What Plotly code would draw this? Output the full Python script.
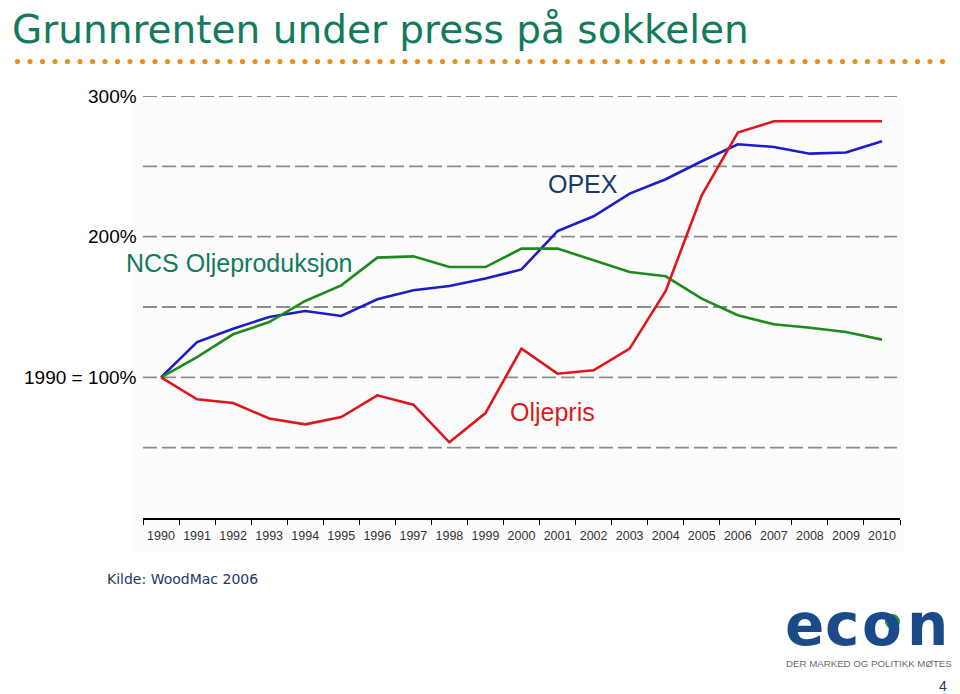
import plotly.graph_objects as go

years = ["1990", "1991", "1992", "1993", "1994", "1995", "1996", "1997", "1998", "1999", "2000",
         "2001", "2002", "2003", "2004", "2005", "2006", "2007", "2008", "2009", "2010"]

opex = [100, 125.1, 134.6, 142.9, 147.1, 143.6, 155.5, 161.9, 164.9, 170.2, 176.7,
        204.0, 214.5, 230.6, 240.8, 253.6, 265.7, 263.8, 259.0, 259.8, 267.8]
ncs_olje = [100, 114.4, 130.6, 139.3, 154.3, 165.4, 185.1, 186.0, 178.4, 178.4, 191.5,
            191.5, 183.2, 174.9, 171.8, 156.0, 144.1, 137.7, 135.3, 132.2, 126.8]
oljepris = [100, 84.4, 81.7, 70.8, 66.6, 71.8, 87.2, 80.6, 53.8, 74.6, 120.4,
            102.6, 105.0, 120.4, 161.4, 229.4, 274.0, 282.0, 282.0, 282.0, 282.0]

grid_levels = [50, 100, 150, 200, 250, 300]
ylabel_vals = [100, 200, 300]
ylabel_text = ["1990 = 100%", "200%", "300%"]

title_text = "Grunnrenten under press på sokkelen"
source_text = "Kilde: WoodMac 2006"
logo_letters = ["e", "c", "o", "n"]
logo_centers = [804, 842, 882, 927]

FONT = "Liberation Sans, Arial, sans-serif"

# page body adds an 8px offset; design in screen pixels and compensate
OFF = 8
W, H = 960, 694
L, R, T, B = 143 - OFF, 900 - OFF, 96 - OFF, 518 - OFF
def px(x):
    return (x - OFF - L) / (R - L)
def py(y):
    return (B - (y - OFF)) / (B - T)
def yval(y):
    return (518 - y) / (422 / 300)

fig = go.Figure()
fig.add_trace(go.Scatter(x=years, y=opex, mode="lines", line=dict(color="#1c1cc8", width=2.6), name="OPEX"))
fig.add_trace(go.Scatter(x=years, y=ncs_olje, mode="lines", line=dict(color="#1e8a1e", width=2.6), name="NCS Oljeproduksjon"))
fig.add_trace(go.Scatter(x=years, y=oljepris, mode="lines", line=dict(color="#e0161c", width=2.6), name="Oljepris"))

shapes = []
shapes.append(dict(type="rect", xref="paper", yref="paper", x0=px(133), x1=px(904), y0=py(552), y1=py(100),
                   fillcolor="#fcfcfc", line=dict(width=0), layer="below"))
for g in grid_levels:
    shapes.append(dict(type="line", xref="paper", yref="y", x0=0, x1=px(897), y0=g, y1=g,
                       line=dict(color="#8c8c8c", width=1.8, dash="14px,5px"), layer="below"))
n_dots = 77
for i in range(n_dots):
    cx = 5 + i * 12.5
    cy = 61.5
    r = 2.6
    shapes.append(dict(type="circle", xref="paper", yref="paper",
                       x0=px(cx - r), x1=px(cx + r), y0=py(cy + r), y1=py(cy - r),
                       fillcolor="#e8911f", line=dict(width=0)))

annotations = []
for v, t in zip(ylabel_vals, ylabel_text):
    annotations.append(dict(xref="paper", yref="y", x=0, y=v, xanchor="right", yanchor="middle", xshift=-4,
                            text=t, showarrow=False, font=dict(family=FONT, size=19, color="#000000")))
annotations.append(dict(xref="paper", yref="y", x=px(546), y=yval(184), xanchor="left", yanchor="middle",
                        text="OPEX", showarrow=False, font=dict(family=FONT, size=25, color="#1a3a6a")))
annotations.append(dict(xref="paper", yref="y", x=px(124), y=yval(263), xanchor="left", yanchor="middle",
                        text="NCS Oljeproduksjon", showarrow=False, font=dict(family=FONT, size=25, color="#137a5c")))
annotations.append(dict(xref="paper", yref="y", x=px(508), y=yval(412), xanchor="left", yanchor="middle",
                        text="Oljepris", showarrow=False, font=dict(family=FONT, size=25, color="#d81c1c")))
annotations.append(dict(xref="paper", yref="paper", x=px(105), y=py(579), xanchor="left", yanchor="middle",
                        text=source_text, showarrow=False, font=dict(family="DejaVu Sans, Verdana, sans-serif", size=14, color="#1f3864")))
for ch, cxl in zip(logo_letters, logo_centers):
    annotations.append(dict(xref="paper", yref="paper", x=px(cxl), y=py(625), xanchor="center", yanchor="middle",
                            text="<b>" + ch + "</b>", showarrow=False,
                            font=dict(family="DejaVu Sans, sans-serif", size=58, color="#1b4a8a")))
annotations.append(dict(xref="paper", yref="paper", x=px(784), y=py(663), xanchor="left", yanchor="middle",
                        text="DER MARKED OG POLITIKK MØTES", showarrow=False, font=dict(family=FONT, size=9.7, color="#6a6a6a")))
annotations.append(dict(xref="paper", yref="paper", x=px(943), y=py(686), xanchor="center", yanchor="middle",
                        text="4", showarrow=False, font=dict(family=FONT, size=14, color="#1f3864")))

for d, col in [(21, "#ffffff"), (15, "#1f9a3c")]:
    cx, cy = 892.5, 621.5
    shapes.append(dict(type="circle", xref="paper", yref="paper",
                       x0=px(cx - d / 2), x1=px(cx + d / 2), y0=py(cy + d / 2), y1=py(cy - d / 2),
                       fillcolor=col, line=dict(width=0)))

fig.update_layout(
    width=W, height=H,
    margin=dict(l=L, r=W - R, t=T, b=H - B, pad=0),
    paper_bgcolor="#ffffff", plot_bgcolor="rgba(0,0,0,0)",
    showlegend=False,
    title=dict(text=title_text, x=(12 - OFF) / W, xanchor="left", y=1 - (29 - OFF) / H, yanchor="middle",
               font=dict(family="DejaVu Sans, Verdana, sans-serif", size=39, color="#137a5c")),
    shapes=shapes,
    annotations=annotations,
    xaxis=dict(type="category", range=[-0.5, 20.5], showgrid=False, zeroline=False,
               showline=True, linecolor="#000000", linewidth=1.5,
               ticks="outside", tickson="boundaries", ticklen=5, tickwidth=1.2, tickcolor="#000000",
               tickangle=0,
               tickfont=dict(family=FONT, size=12.5, color="#333333"), ticklabelstandoff=5),
    yaxis=dict(range=[0, 300], showgrid=False, zeroline=False, showline=False, showticklabels=False, ticks=""),
)

fig.write_html("out.html")
